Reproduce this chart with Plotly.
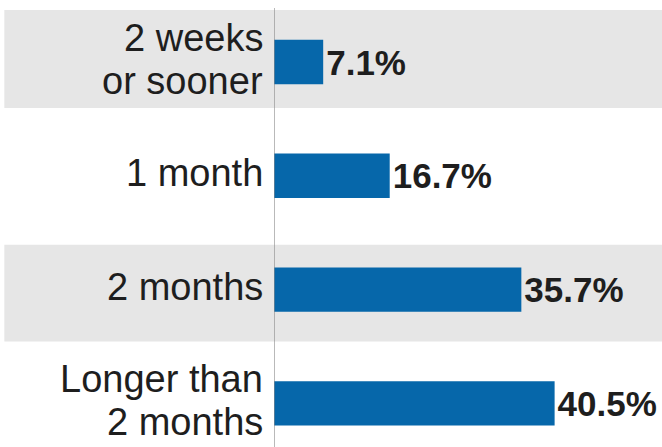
import plotly.graph_objects as go

categories = ["2 weeks<br>or sooner", "1 month", "2 months", "Longer than<br>2 months"]
values = [7.1, 16.7, 35.7, 40.5]
value_labels = ["7.1%", "16.7%", "35.7%", "40.5%"]

BAR_COLOR = "#0667AA"
BAND_COLOR = "#e6e6e6"
TEXT_COLOR = "#1e1e1e"
FONT = "Liberation Sans, Arial, Helvetica, sans-serif"

fig = go.Figure()
fig.add_trace(go.Bar(
    y=categories, x=values, orientation="h",
    marker=dict(color=BAR_COLOR, line=dict(width=0)),
    width=0.39,
    text=value_labels, textposition="outside",
    textfont=dict(family=FONT, size=35, color=TEXT_COLOR, weight="bold"),
    constraintext="none", cliponaxis=False,
    hoverinfo="skip",
))

shapes = []
# alternating gray bands (rows 0 and 2)
band_extents = {0: (-0.457, 0.404), 2: (-0.395, 0.457)}
for i, (a, b) in band_extents.items():
    shapes.append(dict(type="rect", xref="paper", yref="y",
                       x0=-0.695, x1=1.0, y0=i + a, y1=i + b,
                       fillcolor=BAND_COLOR, line=dict(width=0), layer="below"))
# vertical axis line
shapes.append(dict(type="line", xref="x", yref="paper", x0=0, x1=0, y0=0, y1=1,
                   line=dict(color="#8a8a8a", width=1.2), layer="above"))

annotations = []
line_gap = 43
for i, cat in enumerate(categories):
    lines = cat.split("<br>")
    n = len(lines)
    for k, ln in enumerate(lines):
        off = ((n - 1) / 2 - k) * line_gap + 3
        annotations.append(dict(
            x=0, xref="x", y=cat, yref="y", text=ln, showarrow=False,
            xanchor="right", yanchor="middle", xshift=-9, yshift=off,
            font=dict(family=FONT, size=38, color=TEXT_COLOR),
        ))

fig.update_layout(
    width=662, height=447,
    margin=dict(l=274, r=0, t=8, b=0),
    paper_bgcolor="white", plot_bgcolor="rgba(0,0,0,0)",
    showlegend=False,
    shapes=shapes, annotations=annotations,
    xaxis=dict(range=[0, 56], visible=False, fixedrange=True),
    yaxis=dict(range=[3.383, -0.4745], showticklabels=False, showgrid=False,
               zeroline=False, showline=False, ticks="", fixedrange=True),
    bargap=0.6,
)

fig.write_html("out.html", config={"displayModeBar": False},
               post_script="document.body.style.margin='0px';document.body.style.overflow='hidden';")
